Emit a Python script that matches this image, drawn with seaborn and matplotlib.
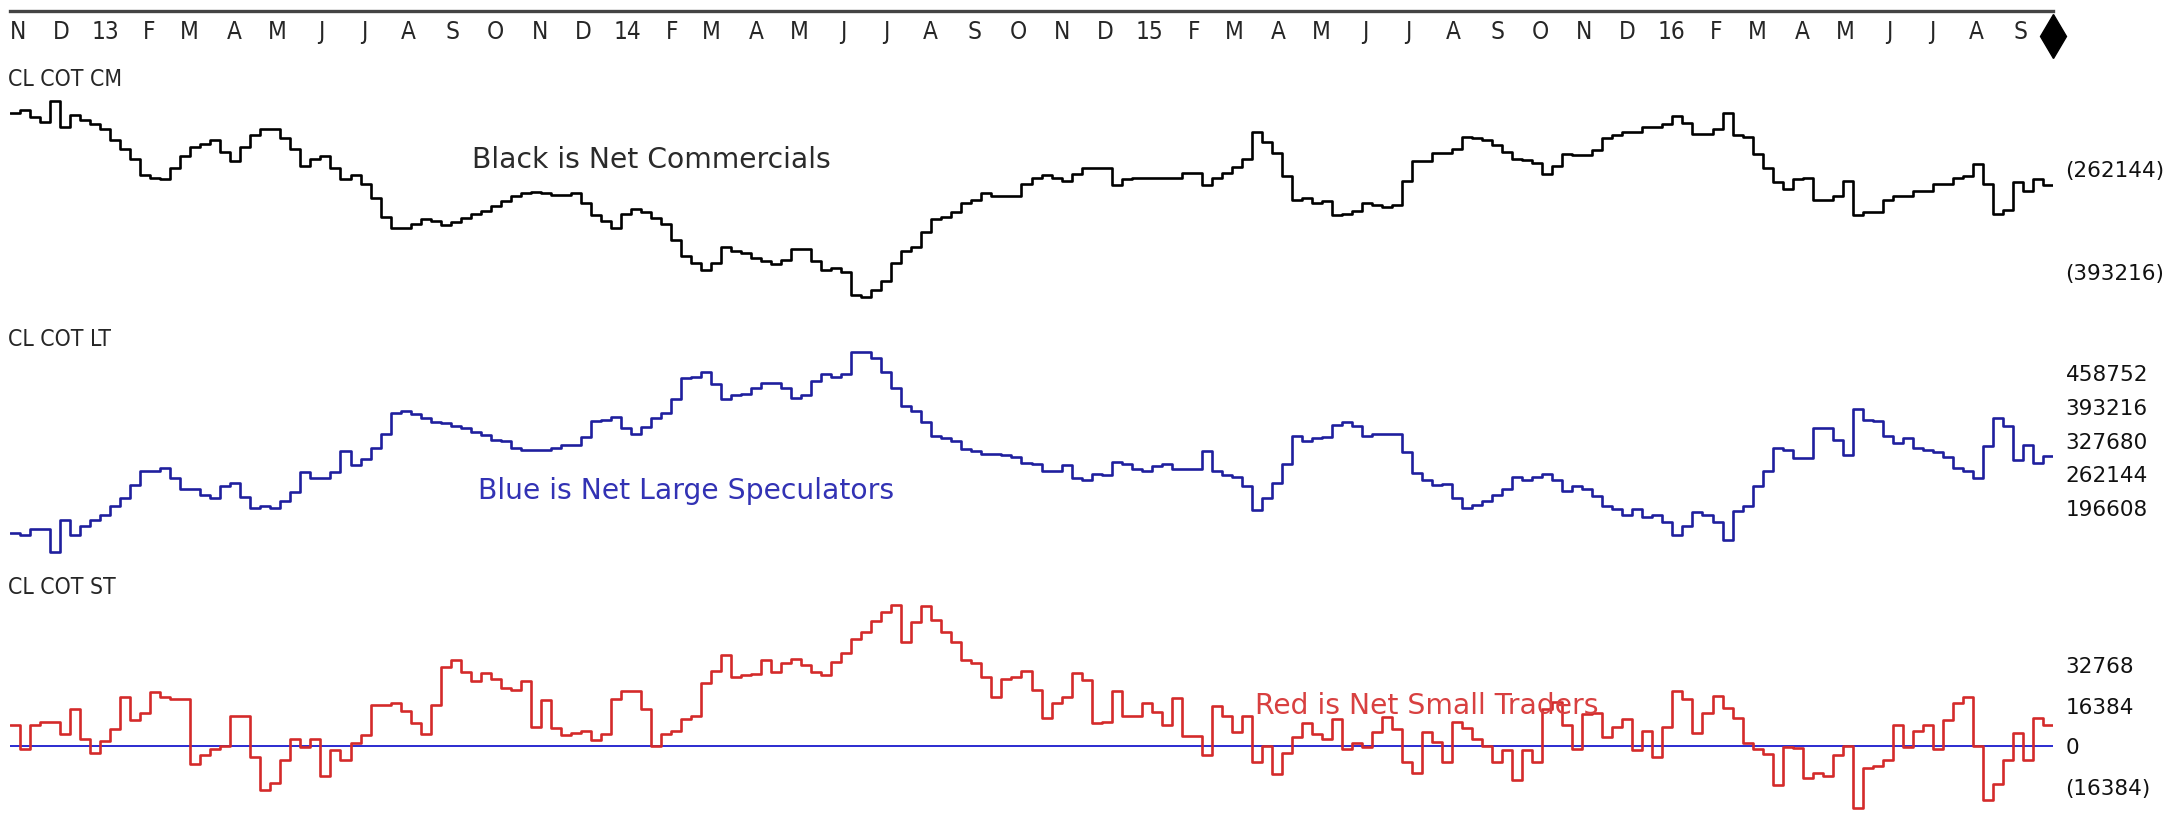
import numpy as np
import pandas as pd
import matplotlib
matplotlib.use("Agg")
import matplotlib.pyplot as plt
import matplotlib.dates as mdates
import matplotlib.transforms as mtransforms
from matplotlib.ticker import FixedLocator, FuncFormatter
import seaborn as sns

# -----------------------
# DATA (weekly COT net positions, thousands of contracts)
# -----------------------
start_date = "2012-10-30"

cm_net = [
    -191, -188, -197, -203, -176, -209, -194, -200, -206, -212, -226, -238, -250, -271, -274,
    -276, -262, -247, -235, -231, -226, -241, -253, -235, -220, -212, -212, -223, -238,
    -259, -250, -247, -262, -276, -271, -282, -300, -324, -338, -338, -333, -327, -330, -335,
    -331, -325, -321, -316, -310, -304, -297, -294, -292, -294, -296, -296, -294, -306,
    -322,
    -330, -338, -320, -314, -318, -325, -333, -353, -374, -383, -392, -383, -362, -368, -370,
    -377, -381, -384, -379, -365, -365, -380, -392, -390, -394, -424, -427, -418, -406,
    -383, -368, -362, -344, -327, -324, -318, -306, -302, -294, -297, -297, -297, -282, -275,
    -271, -274, -278, -269, -262, -262, -262, -284, -276, -274, -274, -275, -275, -275,
    -268, -268, -284, -274, -268, -261, -250, -216, -229, -243, -272, -303, -300, -306, -304,
    -322, -320, -316, -306, -309, -312, -309, -278, -253, -253, -243, -243, -237, -222,
    -223,
    -226, -232, -241, -250, -252, -256, -269, -259, -244, -245, -245, -239, -223, -220, -216,
    -216, -209, -209, -206, -196, -204, -218, -218, -212, -191, -220, -222, -244, -262,
    -279, -288, -276, -274, -303, -303, -297, -278, -322, -318, -318, -302, -298, -298, -291,
    -291, -282, -282, -275, -272, -257, -282, -320, -315, -279, -291, -276, -284,
]

lt_net = [
    145, 141, 154, 154, 109, 172, 141, 159, 172, 180, 199, 213, 240, 267, 267,
    273, 253, 231, 231, 219, 213, 237, 243, 215, 195, 199, 195, 208, 225,
    264, 253, 253, 264, 306, 279, 289, 312, 339, 379, 384, 378, 370, 361, 360,
    354, 351, 343, 336, 327, 325, 312, 307, 307, 307, 312, 318, 318, 333,
    363,
    366, 372, 351, 339, 352, 369, 379, 406, 447, 450, 460, 435, 406, 415, 417,
    429, 438, 438, 429, 408, 414, 442, 456, 450, 456, 498, 498, 486, 459,
    429, 393, 384, 361, 334, 330, 324, 309, 306, 300, 300, 298, 294, 282, 280,
    267, 267, 279, 253, 249, 261, 258, 285, 280, 271, 267, 276, 280, 271,
    271, 271, 306, 267, 258, 255, 237, 190, 213, 244, 280, 334, 325, 330, 333,
    357, 361, 354, 334, 339, 339, 339, 303, 262, 249, 240, 242, 213, 195,
    201,
    208, 219, 231, 255, 249, 255, 261, 249, 228, 237, 231, 217, 199, 192, 180,
    192, 177, 180, 168, 141, 159, 186, 180, 168, 132, 189, 199, 237, 267,
    312, 307, 291, 291, 351, 351, 327, 298, 387, 366, 363, 334, 321, 330, 312,
    307, 303, 294, 273, 267, 253, 315, 369, 354, 288, 318, 282, 296,
]

st_net = [
    8.3, -1.5, 8.3, 9.3, 9.3, 4.6, 14.8, 2.8, -2.8, 1.9, 6.5, 19.4, 10.2, 13.0, 21.3,
    19.4, 18.5, 18.5, -7.4, -3.7, -1.5, 0.0, 12.0, 12.0, -4.6, -17.6, -14.8, -5.6, 2.8,
    -0.4, 2.8, -12.0, -1.9, -5.9, 0.9, 4.1, 16.3, 16.3, 17.0, 13.9, 8.9, 4.6, 16.3, 31.5,
    34.2, 29.6, 25.9, 29.2, 26.8, 23.1, 22.2, 25.9, 7.4, 18.1, 7.0, 4.1, 5.2, 5.9,
    2.2,
    4.6, 18.5, 21.8, 21.8, 14.8, 0.0, 4.6, 5.9, 10.7, 12.0, 25.0, 30.0, 36.1, 27.4, 28.1,
    28.7, 34.2, 29.6, 32.9, 34.8, 32.4, 29.6, 28.1, 33.3, 37.0, 42.6, 45.3, 50.0, 53.3,
    56.2, 41.6, 49.6, 55.9, 50.3, 45.3, 41.6, 34.2, 32.9, 27.4, 19.4, 26.8, 27.4, 30.0, 22.2,
    11.1, 17.0, 19.4, 29.2, 26.3, 8.9, 9.6, 21.8, 12.0, 12.0, 17.0, 13.3, 8.3, 18.9,
    3.7, 3.7, -3.7, 15.7, 12.0, 5.6, 12.0, -6.5, 0.0, -11.5, -2.8, 3.3, 8.9, 4.6, 2.8,
    10.7, -1.5, 0.9, -0.4, 5.6, 11.5, 6.5, -6.5, -11.1, 5.6, 1.5, -6.5, 9.6, 7.0,
    2.8,
    0.0, -6.5, -1.9, -13.9, -1.9, -6.5, 14.8, 17.6, 8.3, -1.5, 12.6, 13.0, 3.3, 7.4, 10.7,
    -1.9, 5.9, -4.6, 7.4, 21.8, 18.5, 5.2, 13.0, 20.0, 15.2, 11.1, 0.9, -1.5, -3.3,
    -15.7, -0.4, -0.9, -13.0, -11.1, -12.0, -3.7, 0.0, -25.0, -8.9, -8.3, -5.6, 8.3, -0.4, 5.9,
    8.3, -1.5, 10.2, 17.0, 19.4, 0.0, -21.8, -15.2, -5.6, 5.2, -5.6, 11.1, 8.3,
]

cm_ticks = [-393216, -262144]
lt_ticks = [196608, 262144, 327680, 393216, 458752]
st_ticks = [-16384, 0, 16384, 32768]

panel_titles = ["CL COT CM", "CL COT LT", "CL COT ST"]
notes = ["Black is Net Commercials", "Blue is Net Large Speculators", "Red is Net Small Traders"]

# -----------------------
# FRAME
# -----------------------
dates = pd.date_range(start_date, periods=len(cm_net), freq="7D")
end_date = dates[-1] + pd.Timedelta(days=7)
df = pd.DataFrame({
    "date": dates,
    "CM": np.array(cm_net) * 1000,
    "LT": np.array(lt_net) * 1000,
    "ST": np.array(st_net) * 1000,
})
# repeat the last week so the final step gets its full width
tail = df.iloc[[-1]].copy()
tail["date"] = end_date
df = pd.concat([df, tail], ignore_index=True)

sns.set_style("white")
plt.rcParams["font.family"] = ["DejaVu Sans"]

W, H = 2176, 820
fig = plt.figure(figsize=(W / 100, H / 100), dpi=100)


def box(x0, y0, x1, y1):
    # pixel box, origin top-left -> figure fraction
    return [x0 / W, 1 - y1 / H, (x1 - x0) / W, (y1 - y0) / H]


label_font = dict(family=["Liberation Sans Narrow", "DejaVu Sans"], fontstretch="condensed")


def neg_paren(v, pos):
    return f"({abs(int(v))})" if v < 0 else f"{int(v)}"


panels = [
    ("CM", "black", (95, 310), (-441.7e3, -167.3e3), cm_ticks),
    ("LT", "#1f1f9e", (340, 560), (95.1e3, 523.6e3), lt_ticks),
    ("ST", "#d42a2a", (590, 815), (-27.4e3, 62.6e3), st_ticks),
]

axes = []
for col, color, (ytop, ybot), ylim, ticks in panels:
    ax = fig.add_axes(box(10, ytop, 2053, ybot))
    if col == "ST":
        ax.axhline(0, color="#2b2bd0", lw=1.4, zorder=1)
    sns.lineplot(data=df, x="date", y=col, drawstyle="steps-post", color=color,
                 lw=1.9, ax=ax, zorder=2)
    ax.set_xlim(dates[0], end_date)
    ax.set_ylim(*ylim)
    ax.set_xlabel("")
    ax.set_ylabel("")
    ax.set_xticks([])
    for s in ax.spines.values():
        s.set_visible(False)
    ax.yaxis.tick_right()
    ax.yaxis.set_major_locator(FixedLocator(ticks))
    ax.yaxis.set_major_formatter(FuncFormatter(neg_paren))
    ax.tick_params(axis="y", length=0, pad=9, labelsize=15.5, labelcolor="#111111")
    ax.patch.set_alpha(0)
    axes.append(ax)

# panel titles
for title, ypix in zip(panel_titles, [80, 340, 588]):
    fig.text(8 / W, 1 - ypix / H, title, va="center", ha="left", fontsize=16.5, **label_font)

# notes
fig.text(651 / W, 1 - 160 / H, notes[0], ha="center", va="center", fontsize=20.3, color="#2a2a2a")
fig.text(686 / W, 1 - 491 / H, notes[1], ha="center", va="center", fontsize=20.3, color="#3232b4")
fig.text(1427 / W, 1 - 706 / H, notes[2], ha="center", va="center", fontsize=20.3, color="#d84040")

# -----------------------
# TOP DATE AXIS
# -----------------------
ax0 = fig.add_axes(box(10, 2, 2053, 12))
ax0.set_xlim(dates[0], end_date)
ax0.set_ylim(0, 1)
ax0.set_yticks([])
for side in ["top", "left", "right"]:
    ax0.spines[side].set_visible(False)
ax0.spines["bottom"].set_linewidth(2.4)
ax0.spines["bottom"].set_color("#444444")
ax0.patch.set_alpha(0)


def month_label(x, pos):
    d = mdates.num2date(x)
    return f"{d.year % 100:02d}" if d.month == 1 else d.strftime("%b")[0]


ax0.xaxis.set_major_locator(mdates.MonthLocator())
ax0.xaxis.set_major_formatter(FuncFormatter(month_label))
ax0.tick_params(axis="x", direction="out", length=5, width=1.2, pad=1, labelsize=17.5)
shift = mtransforms.ScaledTranslation(5 / 100, 0, fig.dpi_scale_trans)
for lab in ax0.get_xticklabels():
    lab.set_family(label_font["family"])
    lab.set_fontstretch("condensed")
    lab.set_transform(lab.get_transform() + shift)

# end-of-data marker
ax0.plot([end_date], [-2.5], marker="d", ms=22, color="black", clip_on=False,
         transform=ax0.get_xaxis_transform())

fig.savefig("out.png", dpi=100)
